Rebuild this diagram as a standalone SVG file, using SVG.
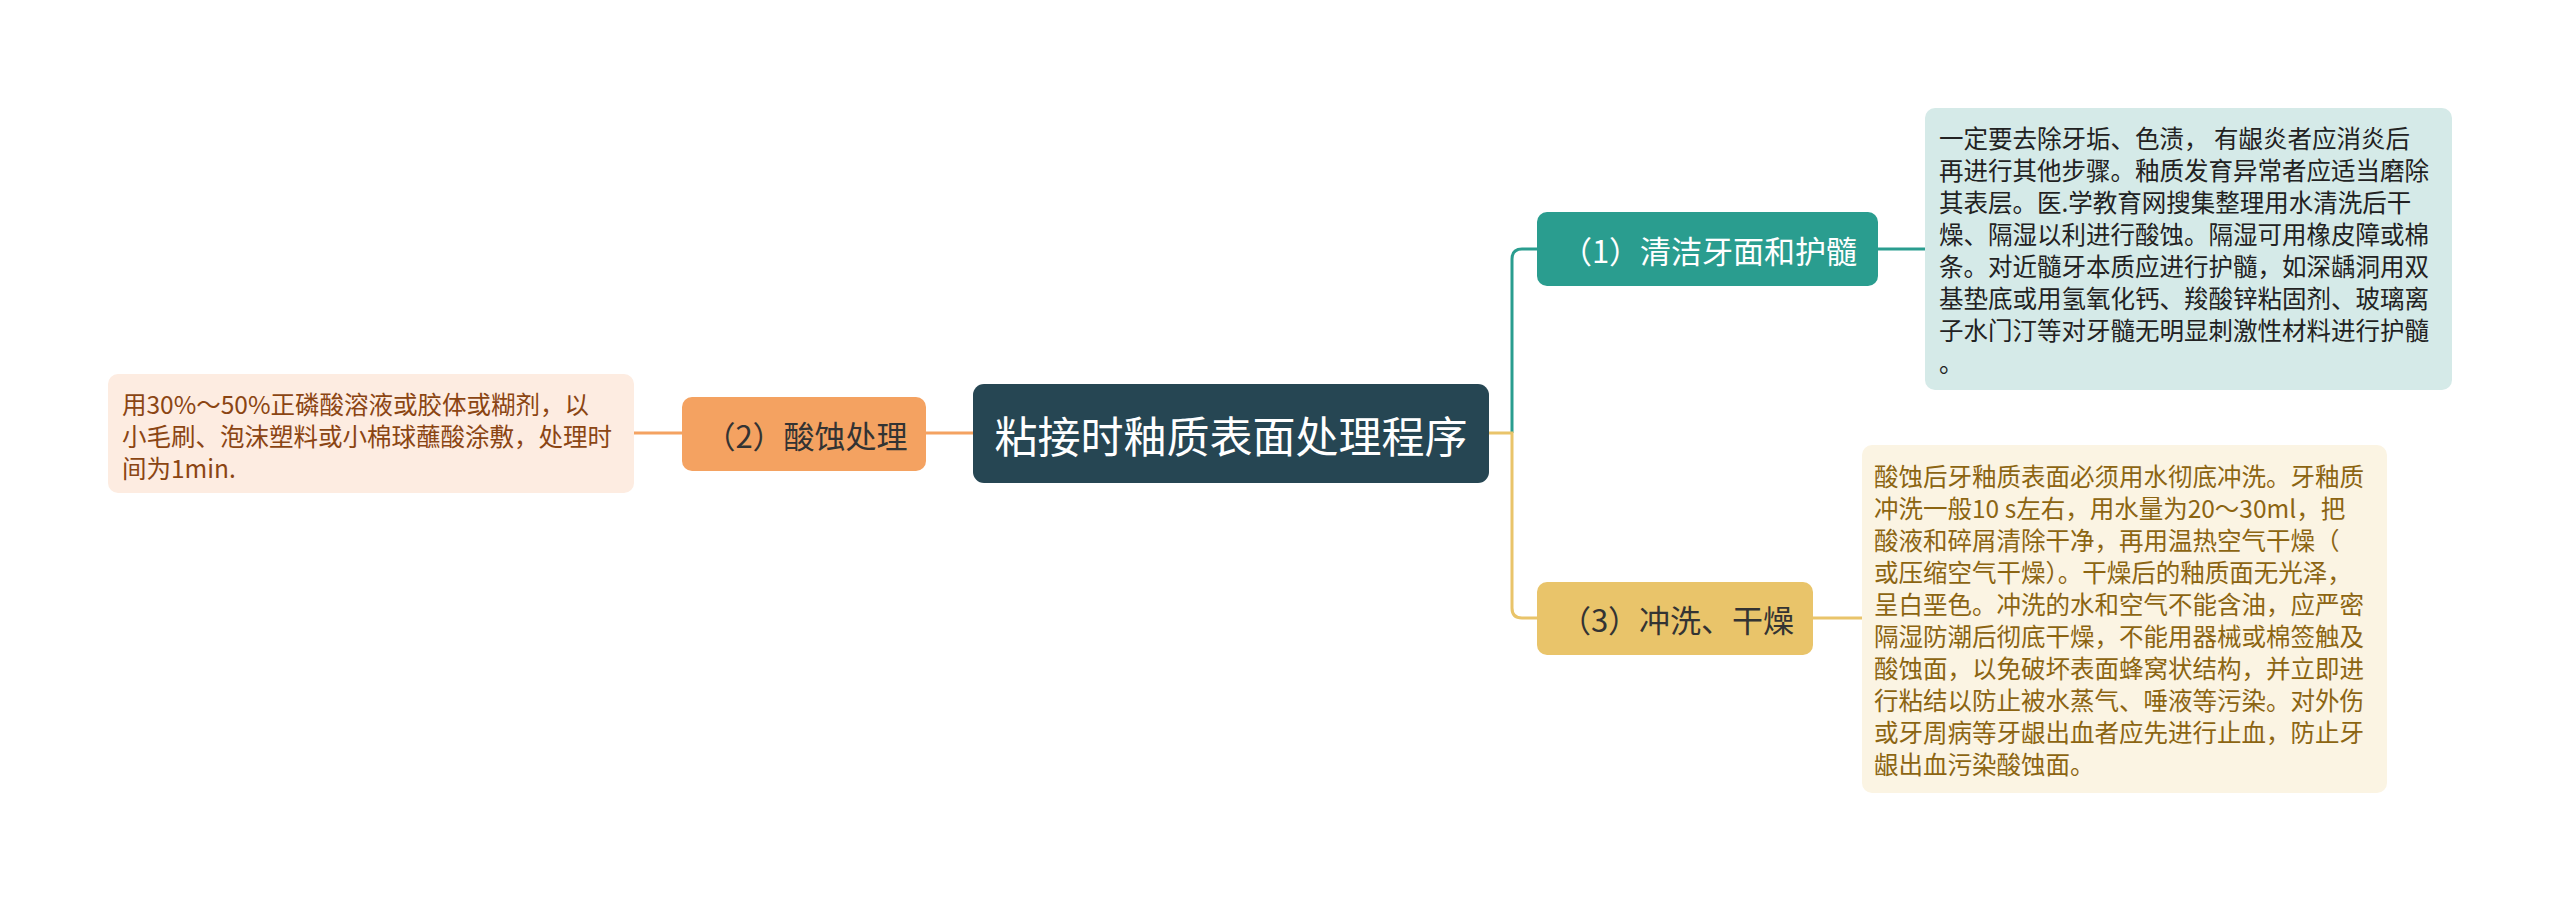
<svg xmlns="http://www.w3.org/2000/svg" width="2560" height="901" viewBox="0 0 2560 901">
<style>
text { font-family: "Noto Sans CJK SC", "Noto Sans", sans-serif; }
.conn { fill: none; stroke-width: 3; }
.teal { stroke: #2a9d8f; }
.yellow { stroke: #e9c46a; }
.orange { stroke: #f4a261; }
.detail { font-size: 24.5px; dominant-baseline: central; }
.node { font-size: 31px; dominant-baseline: central; text-anchor: middle; }
</style>
<rect width="2560" height="901" fill="#ffffff"/>
<g id="connectors">
  <path class="conn teal" d="M1512,433 V259 Q1512,249 1522,249 H1537"/>
  <path class="conn yellow" d="M1489,433 H1512 V608 Q1512,618 1522,618 H1537"/>
  <path class="conn orange" d="M973,433 H926"/>
  <path class="conn orange" d="M682,433 H634"/>
  <path class="conn teal" d="M1878,249 H1925"/>
  <path class="conn yellow" d="M1813,618 H1862"/>
</g>
<g id="root">
  <rect x="973" y="384" width="516" height="99" rx="11" fill="#264653"/>
  <text x="1231" y="434" font-size="43" fill="#ffffff" text-anchor="middle" dominant-baseline="central">粘接时釉质表面处理程序</text>
</g>
<g id="node1">
  <rect x="1537" y="212" width="341" height="74" rx="10" fill="#2a9d8f"/>
  <text class="node" x="1709" y="249" fill="#ffffff">（1）清洁牙面和护髓</text>
</g>
<g id="node2">
  <rect x="682" y="397" width="244" height="74" rx="10" fill="#f4a261"/>
  <text class="node" x="806" y="434" fill="#333333">（2）酸蚀处理</text>
</g>
<g id="node3">
  <rect x="1537" y="582" width="276" height="73" rx="10" fill="#e9c46a"/>
  <text class="node" x="1677" y="618" fill="#333333">（3）冲洗、干燥</text>
</g>
<g id="detail1">
  <rect x="1925" y="108" width="527" height="282" rx="10" fill="#d5eae8"/>
  <g fill="#222222">
    <text class="detail" x="1939" y="137">一定要去除牙垢、色渍， 有龈炎者应消炎后</text>
    <text class="detail" x="1939" y="169">再进行其他步骤。釉质发育异常者应适当磨除</text>
    <text class="detail" x="1939" y="201">其表层。医.学教育网搜集整理用水清洗后干</text>
    <text class="detail" x="1939" y="233">燥、隔湿以利进行酸蚀。隔湿可用橡皮障或棉</text>
    <text class="detail" x="1939" y="265">条。对近髓牙本质应进行护髓，如深龋洞用双</text>
    <text class="detail" x="1939" y="297">基垫底或用氢氧化钙、羧酸锌粘固剂、玻璃离</text>
    <text class="detail" x="1939" y="329">子水门汀等对牙髓无明显刺激性材料进行护髓</text>
    <text class="detail" x="1939" y="361">。</text>
  </g>
</g>
<g id="detail2">
  <rect x="108" y="374" width="526" height="119" rx="10" fill="#fdece1"/>
  <g fill="#8b4513">
    <text class="detail" x="122" y="403">用30%～50%正磷酸溶液或胶体或糊剂，以</text>
    <text class="detail" x="122" y="435">小毛刷、泡沫塑料或小棉球蘸酸涂敷，处理时</text>
    <text class="detail" x="122" y="467">间为1min.</text>
  </g>
</g>
<g id="detail3">
  <rect x="1862" y="445" width="525" height="348" rx="10" fill="#fbf4e3"/>
  <g fill="#8c6512">
    <text class="detail" x="1874" y="475">酸蚀后牙釉质表面必须用水彻底冲洗。牙釉质</text>
    <text class="detail" x="1874" y="507">冲洗一般10 s左右，用水量为20～30ml，把</text>
    <text class="detail" x="1874" y="539">酸液和碎屑清除干净，再用温热空气干燥（</text>
    <text class="detail" x="1874" y="571">或压缩空气干燥）。干燥后的釉质面无光泽，</text>
    <text class="detail" x="1874" y="603">呈白垩色。冲洗的水和空气不能含油，应严密</text>
    <text class="detail" x="1874" y="635">隔湿防潮后彻底干燥，不能用器械或棉签触及</text>
    <text class="detail" x="1874" y="667">酸蚀面，以免破坏表面蜂窝状结构，并立即进</text>
    <text class="detail" x="1874" y="699">行粘结以防止被水蒸气、唾液等污染。对外伤</text>
    <text class="detail" x="1874" y="731">或牙周病等牙龈出血者应先进行止血，防止牙</text>
    <text class="detail" x="1874" y="763">龈出血污染酸蚀面。</text>
  </g>
</g>
</svg>
